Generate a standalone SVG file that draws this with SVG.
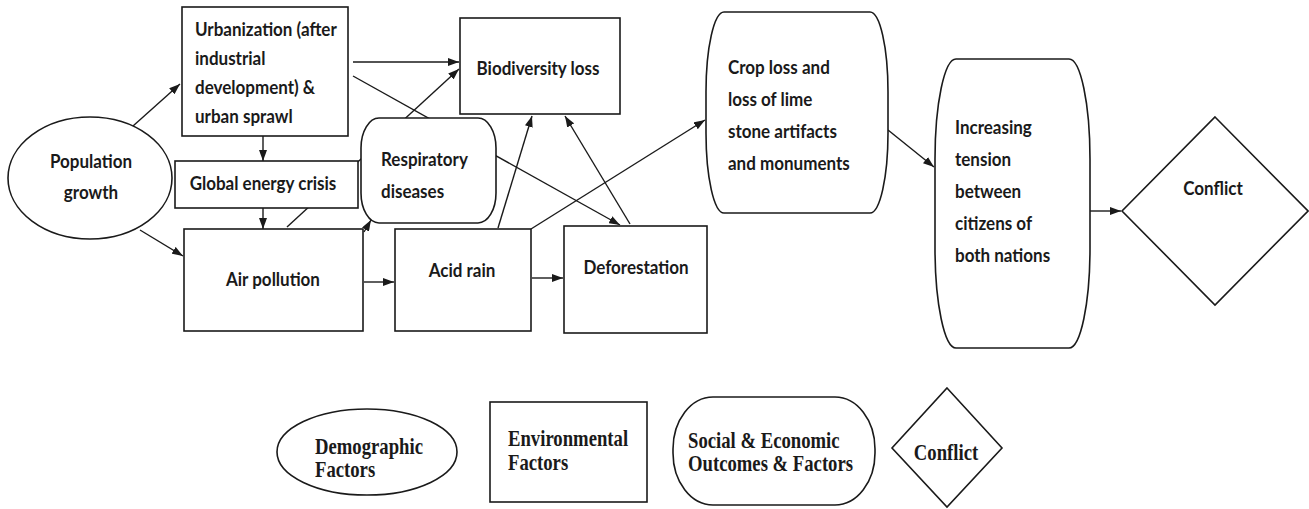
<svg xmlns="http://www.w3.org/2000/svg" width="1309" height="509" viewBox="0 0 1309 509">
  <defs>
    <marker id="arrow" markerUnits="userSpaceOnUse" markerWidth="11" markerHeight="8" refX="11" refY="4" orient="auto">
      <path d="M0,0 L11,4 L0,8 z" fill="#1a1a1a"/>
    </marker>
    <style>
      .shape { fill: #ffffff; stroke: #1a1a1a; stroke-width: 1.6; }
      .link { fill: none; stroke: #1a1a1a; stroke-width: 1.4; marker-end: url(#arrow); }
      .lbl { font-family: Lato, "Open Sans", sans-serif; font-weight: bold; font-size: 17px; fill: #1a1a1a;
             transform-box: fill-box; transform-origin: center; transform: scaleY(1.16); }
      .mid { text-anchor: middle; }
      .key { font-family: "Liberation Serif", "Times New Roman", serif; font-weight: bold; font-size: 18.7px; fill: #1a1a1a;
             transform-box: fill-box; transform-origin: center; transform: scaleY(1.18); }
    </style>
  </defs>
  <rect width="1309" height="509" fill="#ffffff"/>

  <!-- connectors (drawn first so boxes mask crossings) -->
  <g id="connectors">
    <line class="link" x1="133" y1="126" x2="180" y2="84"/>
    <line class="link" x1="140" y1="230" x2="183" y2="256"/>
    <line class="link" x1="263" y1="136" x2="263" y2="161"/>
    <line class="link" x1="263" y1="208" x2="263" y2="229"/>
    <line class="link" x1="353" y1="62" x2="459" y2="62"/>
    <line class="link" x1="353" y1="76" x2="620" y2="225"/>
    <line class="link" x1="287" y1="227" x2="459" y2="69"/>
    <line class="link" x1="364" y1="232" x2="371" y2="220"/>
    <line class="link" x1="364" y1="282" x2="394" y2="282"/>
    <line class="link" x1="498" y1="228" x2="532" y2="116"/>
    <line class="link" x1="630" y1="224" x2="565" y2="116"/>
    <line class="link" x1="532" y1="278" x2="563" y2="278"/>
    <line class="link" x1="531" y1="229" x2="705" y2="120"/>
    <line class="link" x1="888" y1="130" x2="934" y2="167"/>
    <line class="link" x1="1090" y1="211" x2="1121" y2="211"/>
  </g>

  <!-- demographic factor -->
  <g id="population-growth">
    <ellipse class="shape" cx="90" cy="178" rx="82" ry="61"/>
    <text class="lbl mid" x="91" y="167">Population</text>
    <text class="lbl mid" x="91" y="198">growth</text>
  </g>

  <!-- environmental factors -->
  <g id="urbanization">
    <rect class="shape" x="182" y="7" width="166" height="129"/>
    <text class="lbl" x="195" y="35">Urbanization (after</text>
    <text class="lbl" x="195" y="64">industrial</text>
    <text class="lbl" x="195" y="93">development) &amp;</text>
    <text class="lbl" x="195" y="122">urban sprawl</text>
  </g>

  <g id="global-energy-crisis">
    <rect class="shape" x="175" y="161" width="183" height="47"/>
    <text class="lbl mid" x="263" y="189">Global energy crisis</text>
  </g>

  <g id="air-pollution">
    <rect class="shape" x="184" y="229" width="179" height="102"/>
    <text class="lbl mid" x="273" y="285">Air pollution</text>
  </g>

  <g id="biodiversity-loss">
    <rect class="shape" x="460" y="18" width="160" height="96"/>
    <text class="lbl mid" x="538" y="74">Biodiversity loss</text>
  </g>

  <g id="acid-rain">
    <rect class="shape" x="395" y="229" width="136" height="102"/>
    <text class="lbl mid" x="462" y="276">Acid rain</text>
  </g>

  <g id="deforestation">
    <rect class="shape" x="564" y="226" width="143" height="107"/>
    <text class="lbl mid" x="636" y="273">Deforestation</text>
  </g>

  <!-- social and economic outcomes -->
  <g id="respiratory-diseases">
    <rect class="shape" x="361" y="118" width="135" height="105" rx="18" ry="30"/>
    <text class="lbl" x="381" y="165">Respiratory</text>
    <text class="lbl" x="381" y="197">diseases</text>
  </g>

  <g id="crop-loss">
    <rect class="shape" x="706" y="12" width="182" height="201" rx="18" ry="80"/>
    <text class="lbl" x="728" y="73">Crop loss and</text>
    <text class="lbl" x="728" y="105">loss of lime</text>
    <text class="lbl" x="728" y="137">stone artifacts</text>
    <text class="lbl" x="728" y="169">and monuments</text>
  </g>

  <g id="increasing-tension">
    <rect class="shape" x="935" y="59" width="155" height="289" rx="21" ry="100"/>
    <text class="lbl" x="955" y="133">Increasing</text>
    <text class="lbl" x="955" y="165">tension</text>
    <text class="lbl" x="955" y="197">between</text>
    <text class="lbl" x="955" y="229">citizens of</text>
    <text class="lbl" x="955" y="261">both nations</text>
  </g>

  <!-- outcome -->
  <g id="conflict">
    <polygon class="shape" points="1215,117 1308,211 1215,305 1122,211"/>
    <text class="lbl mid" x="1213" y="194">Conflict</text>
  </g>

  <!-- legend -->
  <g id="legend-demographic">
    <ellipse class="shape" cx="367" cy="452" rx="90" ry="43"/>
    <text class="key" x="315" y="453">Demographic</text>
    <text class="key" x="315" y="476">Factors</text>
  </g>
  <g id="legend-environmental">
    <rect class="shape" x="490" y="402" width="157" height="100"/>
    <text class="key" x="508" y="445">Environmental</text>
    <text class="key" x="508" y="469">Factors</text>
  </g>
  <g id="legend-social">
    <rect class="shape" x="673" y="397" width="202" height="108" rx="40" ry="52"/>
    <text class="key" x="688" y="447">Social &amp; Economic</text>
    <text class="key" x="688" y="470">Outcomes &amp; Factors</text>
  </g>
  <g id="legend-conflict">
    <polygon class="shape" points="947,388 1002,448 947,507 892,448"/>
    <text class="key" x="946" y="459" text-anchor="middle">Conflict</text>
  </g>
</svg>
